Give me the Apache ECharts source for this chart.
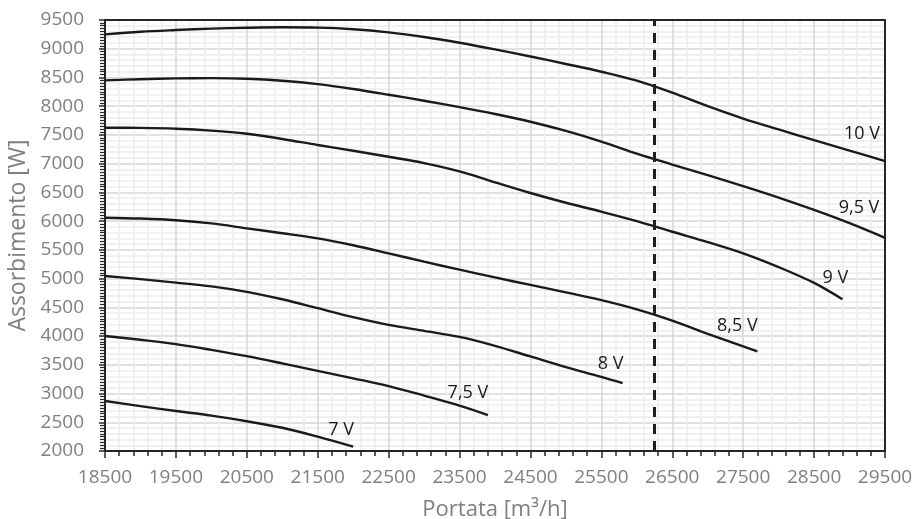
<!DOCTYPE html>
<html>
<head>
<meta charset="utf-8">
<script src="https://cdn.jsdelivr.net/npm/echarts@6/dist/echarts.min.js"></script>
<style>
  html, body { margin: 0; padding: 0; background: #ffffff; }
  #chart { width: 923px; height: 519px; }
</style>
</head>
<body>
<div id="chart"></div>
<script>
// ---- Data ----
const curveNames = ['10 V', '9,5 V', '9 V', '8,5 V', '8 V', '7,5 V', '7 V'];

const flow10V  = [18500,19000,19500,20000,20500,21000,21500,22000,22500,23000,23500,24000,24500,25000,25500,26000,26500,27000,27500,28000,28500,29000,29500];
const power10V = [9250, 9295, 9325, 9350, 9365, 9373, 9368, 9340, 9285, 9205, 9105, 8990, 8865, 8735, 8600, 8445, 8235, 8000, 7785, 7595, 7410, 7228, 7045];

const flow9_5V  = [18500,19000,19500,20000,20500,21000,21500,22000,22500,23000,23500,24000,24500,25000,25500,26000,26500,27000,27500,28000,28500,29000,29500];
const power9_5V = [8450, 8470, 8484, 8488, 8478, 8443, 8385, 8300, 8200, 8095, 7985, 7865, 7730, 7570, 7385, 7175, 6985, 6800, 6610, 6410, 6195, 5965, 5710];

const flow9V  = [18500,19000,19500,20000,20500,21000,21500,22000,22500,23000,23500,24000,24500,25000,25500,26000,26500,27000,27500,28000,28500,28900];
const power9V = [7625, 7622, 7608, 7575, 7520, 7430, 7325, 7225, 7120, 7010, 6865, 6675, 6490, 6320, 6165, 6000, 5815, 5635, 5440, 5200, 4925, 4640];

const flow8_5V  = [18500,19000,19500,20000,20500,21000,21500,22000,22500,23000,23500,24000,24500,25000,25500,26000,26500,27000,27500,27700];
const power8_5V = [6060, 6045, 6015, 5960, 5875, 5790, 5700, 5580, 5440, 5295, 5155, 5020, 4890, 4760, 4625, 4465, 4270, 4040, 3820, 3735];

const flow8V  = [18500,19000,19500,20000,20500,21000,21500,22000,22500,23000,23500,24000,24500,25000,25500,25800];
const power8V = [5045, 4990, 4930, 4865, 4770, 4640, 4485, 4330, 4195, 4090, 3985, 3830, 3645, 3460, 3290, 3180];

const flow7_5V  = [18500,19000,19500,20000,20500,21000,21500,22000,22500,23000,23500,23900];
const power7_5V = [4000, 3935, 3860, 3760, 3650, 3525, 3395, 3265, 3130, 2965, 2790, 2626];

const flow7V  = [18500,19000,19500,20000,20500,21000,21500,22000];
const power7V = [2870, 2780, 2696, 2615, 2517, 2405, 2250, 2075];

const referenceFlow = 26250;   // dashed vertical line

const xMin = 18500, xMax = 29500, xStep = 1000;
const yMin = 2000,  yMax = 9500,  yStep = 500;

// ---- Styling (kept separate from data) ----
const labelOffsets = [[-23,-27],[-26,-30],[-7,-21],[-20,-25],[-12,-19],[-20,-22],[-12,-17]];

const curves = [
  [flow10V, power10V], [flow9_5V, power9_5V], [flow9V, power9V], [flow8_5V, power8_5V],
  [flow8V, power8V], [flow7_5V, power7_5V], [flow7V, power7V]
];

const FONT = '"Open Sans", "Noto Sans", sans-serif';
const GRAY = '#7f7f7f';
const DARK = '#262626';

const series = curves.map(function (c, i) {
  const xs = c[0], ys = c[1];
  const pts = xs.map(function (x, k) { return [x, ys[k]]; });
  const last = pts[pts.length - 1];
  const s = {
    name: curveNames[i],
    type: 'line',
    xAxisIndex: 0,
    yAxisIndex: 0,
    data: pts,
    smooth: 0.35,
    showSymbol: false,
    symbol: 'none',
    z: 3,
    lineStyle: { color: '#1a1a1a', width: 2.4 },
    markPoint: {
      symbol: 'circle',
      symbolSize: 1,
      itemStyle: { color: 'rgba(0,0,0,0)' },
      silent: true,
      label: {
        show: true,
        position: 'inside',
        offset: labelOffsets[i],
        formatter: curveNames[i],
        color: '#1a1a1a',
        fontSize: 18,
        fontFamily: FONT
      },
      data: [{ coord: last }]
    }
  };
  if (i === 0) {
    s.markLine = {
      silent: true,
      symbol: 'none',
      label: { show: false },
      lineStyle: { color: '#1f1f1f', width: 3, type: [10, 7] },
      data: [[{ coord: [referenceFlow, yMin] }, { coord: [referenceFlow, yMax] }]]
    };
  }
  return s;
});

function plain(v) { return String(v); }

const chart = echarts.init(document.getElementById('chart'), null, { renderer: 'canvas' });
chart.setOption({
  animation: false,
  backgroundColor: '#ffffff',
  grid: { left: 105, right: 38, top: 20, bottom: 68, containLabel: false, outerBoundsMode: 'none' },
  xAxis: [
    {
      type: 'value',
      position: 'bottom',
      min: xMin, max: xMax, interval: xStep,
      name: 'Portata [m³/h]',
      nameLocation: 'middle',
      nameGap: 48,
      nameTextStyle: { color: GRAY, fontSize: 22, fontFamily: FONT },
      axisLine: { show: true, lineStyle: { color: DARK, width: 2 } },
      axisTick: { show: true, length: 7, lineStyle: { color: DARK, width: 1.5 } },
      minorTick: { show: true, splitNumber: 5, length: 5, lineStyle: { color: DARK, width: 1.5 } },
      axisLabel: { color: GRAY, fontSize: 19, fontFamily: FONT, margin: 17, formatter: plain },
      splitLine: { show: true, showMinLine: false, showMaxLine: false, lineStyle: { color: '#d6d6d6', width: 1.5 } },
      minorSplitLine: { show: true, lineStyle: { color: '#ededed', width: 1.5 } }
    },
    {
      type: 'value',
      position: 'top',
      min: xMin, max: xMax, interval: xStep,
      axisLine: { show: true, lineStyle: { color: DARK, width: 2 } },
      axisTick: { show: false },
      axisLabel: { show: false },
      splitLine: { show: false }
    }
  ],
  yAxis: [
    {
      type: 'value',
      position: 'left',
      min: yMin, max: yMax, interval: yStep,
      name: 'Assorbimento [W]',
      nameLocation: 'middle',
      nameGap: 68,
      nameTextStyle: { color: GRAY, fontSize: 23, fontFamily: FONT },
      axisLine: { show: true, lineStyle: { color: DARK, width: 2 } },
      axisTick: { show: true, length: 6, lineStyle: { color: DARK, width: 1.5 } },
      minorTick: { show: true, splitNumber: 10, length: 5, lineStyle: { color: DARK, width: 1.2 } },
      axisLabel: { color: GRAY, fontSize: 19, fontFamily: FONT, margin: 21, formatter: plain },
      splitLine: { show: true, showMinLine: false, showMaxLine: false, lineStyle: { color: '#d6d6d6', width: 1.5 } },
      minorSplitLine: { show: false }
    },
    {
      type: 'value',
      position: 'right',
      min: yMin, max: yMax, interval: yStep,
      axisLine: { show: true, lineStyle: { color: DARK, width: 2 } },
      axisTick: { show: false },
      axisLabel: { show: false },
      splitLine: { show: false },
      minorTick: { show: false, splitNumber: 5 },
      minorSplitLine: { show: true, lineStyle: { color: '#ededed', width: 1.5 } }
    }
  ],
  series: series
});
</script>
</body>
</html>
